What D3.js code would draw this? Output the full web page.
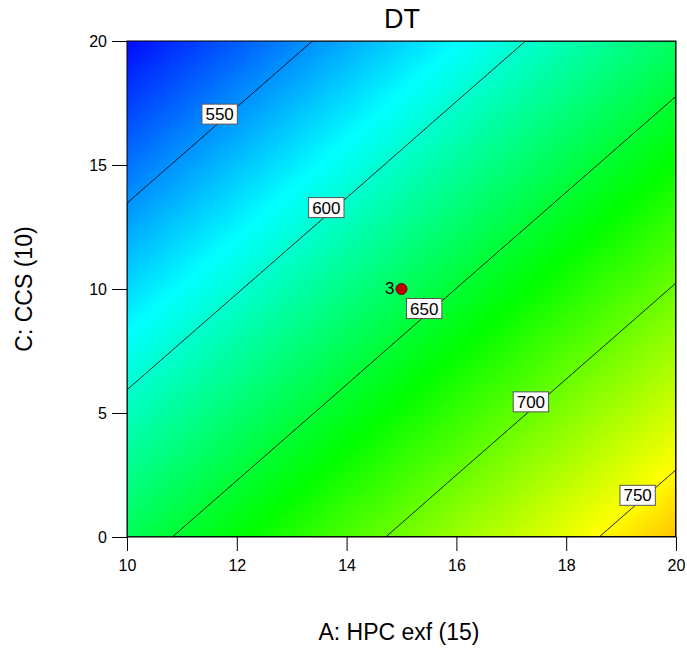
<!DOCTYPE html>
<html>
<head>
<meta charset="utf-8">
<script src="https://cdn.jsdelivr.net/npm/d3@7"></script>
<style>
  body { margin: 0; background: #fff; }
  text { font-family: Arial, "Liberation Sans", sans-serif; }
</style>
</head>
<body>
<div id="container"></div>
<script>
const hpcLevels = [10, 12, 14, 16, 18, 20];
const ccsLevels = [0, 5, 10, 15, 20];
// DT values, one row per CCS level, one column per HPC level
const dtGrid = [
    [639.4, 665.1, 690.8, 716.6, 742.3, 768.0],
    [606.2, 631.9, 657.6, 683.4, 709.1, 734.8],
    [573.0, 598.7, 624.4, 650.2, 675.9, 701.6],
    [539.8, 565.5, 591.2, 617.0, 642.7, 668.4],
    [506.6, 532.3, 558.0, 583.8, 609.5, 635.2]
];
const contourLevels = [550, 600, 650, 700, 750];
const designPoint = [15, 10];
const designReps = 3;
const xTicks = [10, 12, 14, 16, 18, 20];
const yTicks = [0, 5, 10, 15, 20];

const W = 687, H = 650;
const margin = { left: 127, top: 41 };
const width = 549, height = 496;

const svg = d3.select('#container').append('svg')
    .attr('width', W)
    .attr('height', H);

const x = d3.scaleLinear().domain([10, 20]).range([0, width]);
const y = d3.scaleLinear().domain([0, 20]).range([height, 0]);

// Blue -> cyan -> green -> yellow -> red, as in the response surface colouring
const color = d3.scaleLinear()
    .domain([503, 585, 667, 749, 831])
    .range(['#0000ff', '#00ffff', '#00ff00', '#ffff00', '#ff0000'])
    .clamp(true);

// bilinear lookup in the grid
function dtAt(a, c) {
    let i = d3.bisectRight(hpcLevels, a) - 1;
    let j = d3.bisectRight(ccsLevels, c) - 1;
    i = Math.max(0, Math.min(hpcLevels.length - 2, i));
    j = Math.max(0, Math.min(ccsLevels.length - 2, j));
    const ta = (a - hpcLevels[i]) / (hpcLevels[i + 1] - hpcLevels[i]);
    const tc = (c - ccsLevels[j]) / (ccsLevels[j + 1] - ccsLevels[j]);
    const v00 = dtGrid[j][i], v10 = dtGrid[j][i + 1];
    const v01 = dtGrid[j + 1][i], v11 = dtGrid[j + 1][i + 1];
    return (v00 * (1 - ta) + v10 * ta) * (1 - tc) + (v01 * (1 - ta) + v11 * ta) * tc;
}

// sample the surface on a fine grid (cell centred, row 0 at the top)
const nx = 220, ny = 200;
const values = new Array(nx * ny);
for (let j = 0; j < ny; j++) {
    for (let i = 0; i < nx; i++) {
        const a = x.invert((i + 0.5) * width / nx);
        const c = y.invert((j + 0.5) * height / ny);
        values[j * nx + i] = dtAt(a, c);
    }
}

const gridToPx = d3.geoTransform({
    point: function(px, py) { this.stream.point(px * width / nx, py * height / ny); }
});
const path = d3.geoPath(gridToPx);

const g = svg.append('g').attr('transform', `translate(${margin.left},${margin.top})`);

svg.append('clipPath').attr('id', 'plot-clip')
    .append('rect').attr('width', width).attr('height', height);

const plot = g.append('g').attr('clip-path', 'url(#plot-clip)');

// filled colour bands
const [vmin, vmax] = d3.extent(values);
const step = 1.5;
const fillThresholds = d3.range(Math.floor(vmin), vmax, step);
plot.append('rect')
    .attr('width', width).attr('height', height)
    .attr('fill', color(vmin));
plot.selectAll('path.band')
    .data(d3.contours().size([nx, ny]).thresholds(fillThresholds)(values))
    .enter().append('path')
    .attr('class', 'band')
    .attr('d', path)
    .attr('fill', d => color(d.value + step / 2));

// contour lines
const lines = d3.contours().size([nx, ny]).thresholds(contourLevels)(values);
plot.selectAll('path.iso')
    .data(lines)
    .enter().append('path')
    .attr('class', 'iso')
    .attr('d', path)
    .attr('fill', 'none')
    .attr('stroke', '#000')
    .attr('stroke-width', 0.9);

// frame
g.append('rect')
    .attr('width', width).attr('height', height)
    .attr('fill', 'none')
    .attr('stroke', '#000')
    .attr('stroke-width', 1);

// contour labels: box sits on the middle point of each isoline
lines.forEach(d => {
    let best = null;
    d.coordinates.forEach(poly => poly.forEach(ring => {
        const pts = ring.filter(p => p[0] > 0 && p[0] < nx && p[1] > 0 && p[1] < ny)
            .map(p => [p[0] * width / nx, p[1] * height / ny]);
        if (!best || pts.length > best.length) best = pts;
    }));
    if (!best || best.length < 2) return;
    const cum = [0];
    for (let k = 1; k < best.length; k++) {
        cum.push(cum[k - 1] + Math.hypot(best[k][0] - best[k - 1][0], best[k][1] - best[k - 1][1]));
    }
    const half = cum[cum.length - 1] / 2;
    let k = d3.bisectLeft(cum, half);
    k = Math.max(1, k);
    const t = (half - cum[k - 1]) / (cum[k] - cum[k - 1] || 1);
    const px = best[k - 1][0] + t * (best[k][0] - best[k - 1][0]);
    const py = best[k - 1][1] + t * (best[k][1] - best[k - 1][1]);

    const lab = g.append('g').attr('transform', `translate(${px},${py})`);
    const box = lab.append('rect');
    const txt = lab.append('text')
        .attr('text-anchor', 'middle')
        .attr('y', -8)
        .attr('dy', '0.36em')
        .attr('font-size', 17)
        .text(d.value);
    const bb = txt.node().getBBox();
    box.attr('x', -bb.width / 2 - 3.5)
        .attr('y', -18)
        .attr('width', bb.width + 7)
        .attr('height', 20)
        .attr('fill', '#fff')
        .attr('stroke', '#555')
        .attr('stroke-width', 1);
});

// design point with replicate count
g.append('circle')
    .attr('cx', x(designPoint[0]))
    .attr('cy', y(designPoint[1]))
    .attr('r', 5.5)
    .attr('fill', '#c00000')
    .attr('stroke', '#600000')
    .attr('stroke-width', 1);
g.append('text')
    .attr('x', x(designPoint[0]) - 7)
    .attr('y', y(designPoint[1]) - 1)
    .attr('dy', '0.36em')
    .attr('text-anchor', 'end')
    .attr('font-size', 17)
    .text(designReps);

// axes
const xAxis = g.append('g')
    .attr('transform', `translate(0,${height})`)
    .call(d3.axisBottom(x).tickValues(xTicks).tickSize(14).tickSizeOuter(0).tickPadding(9));
const yAxis = g.append('g')
    .call(d3.axisLeft(y).tickValues(yTicks).tickSize(15).tickSizeOuter(0).tickPadding(5));
[xAxis, yAxis].forEach(ax => {
    ax.attr('font-size', 16).attr('font-family', 'Arial, "Liberation Sans", sans-serif');
    ax.select('.domain').remove();
    ax.selectAll('line').attr('stroke', '#000');
    ax.selectAll('text').attr('fill', '#000');
});

// titles
svg.append('text')
    .attr('x', 402)
    .attr('y', 28)
    .attr('text-anchor', 'middle')
    .attr('font-size', 27)
    .text('DT');

svg.append('text')
    .attr('x', 399)
    .attr('y', 640)
    .attr('text-anchor', 'middle')
    .attr('font-size', 23)
    .text('A: HPC exf (15)');

svg.append('text')
    .attr('transform', 'translate(32,289) rotate(-90)')
    .attr('text-anchor', 'middle')
    .attr('font-size', 23)
    .text('C: CCS (10)');
</script>
</body>
</html>
